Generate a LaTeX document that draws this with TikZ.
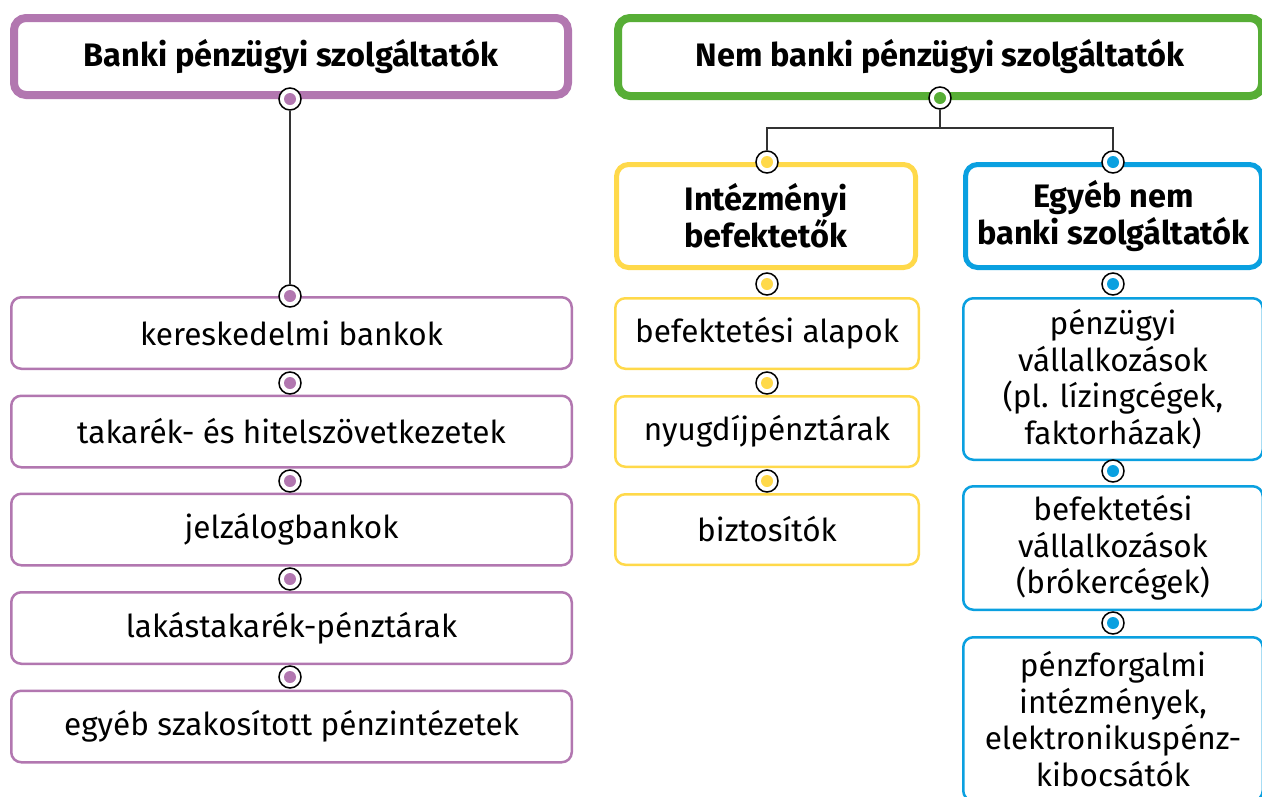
\documentclass[tikz,border=0pt]{standalone}
\usepackage{fontspec}
\setmainfont{Fira Sans}
\definecolor{purp}{HTML}{B277B0}
\definecolor{grn}{HTML}{57AE36}
\definecolor{yel}{HTML}{FFD94A}
\definecolor{blu}{HTML}{0AA0E0}
\tikzset{
  box/.style={draw=#1, rounded corners=10pt, fill=white, align=center, inner sep=0pt,
    font=\fontsize{31.5}{36.5}\selectfont, text=black},
  headbox/.style={box=#1, line width=8pt, rounded corners=12pt, font=\bfseries\fontsize{32.5}{37}\selectfont},
  midbox/.style={box=#1, line width=5pt, rounded corners=12pt, font=\bfseries\fontsize{32.5}{37}\selectfont},
  itembox/.style={box=#1, line width=2.5pt},
  dot/.style={circle, draw=black, fill=white, line width=1.5pt, minimum size=22pt, inner sep=0pt,
    path picture={\fill[#1] (path picture bounding box.center) circle (6pt);}},
  conn/.style={draw=black!80, line width=1.3pt}
}
\begin{document}
\begin{tikzpicture}[x=1pt,y=-1pt]
\useasboundingbox (0,0) rectangle (1262,796);
\clip (0,0) rectangle (1262,796);
\fill[white] (0,0) rectangle (1262,796);
% left column
\node[headbox=purp, minimum width=554pt, minimum height=77pt] (banki) at (291,56.5) {Banki pénzügyi szolgáltatók};
\node[itembox=purp, minimum width=560.5pt, minimum height=71.5pt] (l1) at (291.5,333) {kereskedelmi bankok};
\node[itembox=purp, minimum width=560.5pt, minimum height=71.5pt] (l2) at (291.5,431.5) {takarék- és hitelszövetkezetek};
\node[itembox=purp, minimum width=560.5pt, minimum height=71.5pt] (l3) at (291.5,529.5) {jelzálogbankok};
\node[itembox=purp, minimum width=560.5pt, minimum height=71.5pt] (l4) at (291.5,628) {lakástakarék-pénztárak};
\node[itembox=purp, minimum width=560.5pt, minimum height=71.5pt] (l5) at (291.5,726.5) {egyéb szakosított pénzintézetek};
\node[dot=purp] (pd0) at (290,99) {};
\node[dot=purp] (pd1) at (290,296) {};
\node[dot=purp] (pd2) at (290,383) {};
\node[dot=purp] (pd3) at (290,481) {};
\node[dot=purp] (pd4) at (290,579) {};
\node[dot=purp] (pd5) at (290,677) {};
\draw[conn] (pd0) -- (pd1);
% right part
\node[headbox=grn, minimum width=644pt, minimum height=78pt] (nembanki) at (940,57) {Nem banki pénzügyi szolgáltatók};
\node[midbox=yel, minimum width=299pt, minimum height=103pt] (inte) at (766,216) {Intézményi\\befektetők};
\node[midbox=blu, minimum width=296pt, minimum height=103pt] (egyeb) at (1113.5,216) {Egyéb nem\\banki szolgáltatók};
\node[itembox=yel, minimum width=303.5pt, minimum height=70.5pt] (y1) at (767,333.5) {befektetési alapok};
\node[itembox=yel, minimum width=303.5pt, minimum height=70.5pt] (y2) at (767,431.5) {nyugdíjpénztárak};
\node[itembox=yel, minimum width=303.5pt, minimum height=70.5pt] (y3) at (767,529.5) {biztosítók};
\node[itembox=blu, minimum width=299.5pt, minimum height=161.5pt] (b1) at (1113,379) {pénzügyi\\vállalkozások\\(pl. lízingcégek,\\faktorházak)};
\node[itembox=blu, minimum width=299.5pt, minimum height=123.5pt] (b2) at (1113,548) {befektetési\\vállalkozások\\(brókercégek)};
\node[itembox=blu, minimum width=299.5pt, minimum height=163.5pt] (b3) at (1113,719) {pénzforgalmi\\intézmények,\\elektronikuspénz-\\kibocsátók};
\node[dot=grn] (gd) at (940,98) {};
\node[dot=yel] (yd1) at (767,162) {};
\node[dot=blu] (bd1) at (1113,162) {};
\node[dot=yel] (yd2) at (767,284) {};
\node[dot=blu] (bd2) at (1113,284) {};
\node[dot=yel] (yd3) at (767,383) {};
\node[dot=yel] (yd4) at (767,481) {};
\node[dot=blu] (bd3) at (1113,471) {};
\node[dot=blu] (bd4) at (1113,623) {};
\coordinate (split) at (940,128);
\draw[conn] (gd) -- (split) -| (yd1);
\draw[conn] (split) -| (bd1);
\end{tikzpicture}
\end{document}
